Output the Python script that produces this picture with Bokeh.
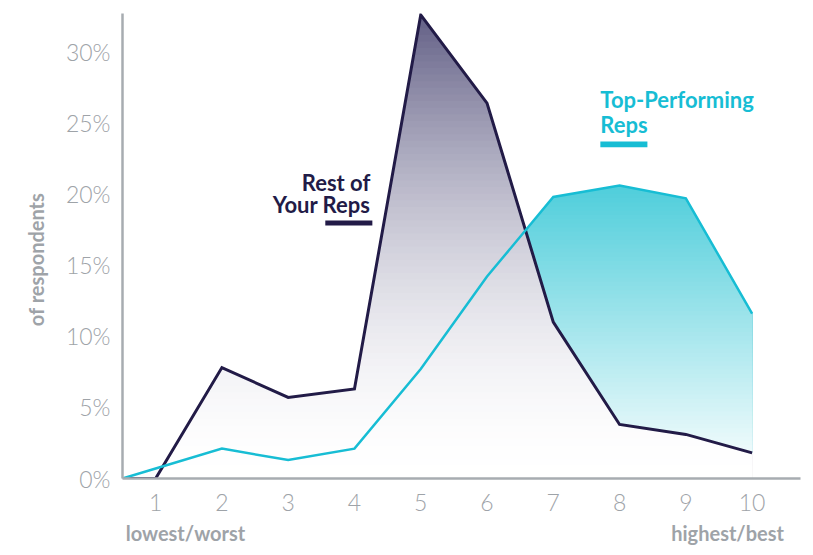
import numpy as np
from bokeh.plotting import figure
from bokeh.models import (FixedTicker, PrintfTickFormatter, Label, Range1d,
                          BoxAnnotation, LinearAxis)
from bokeh.embed import file_html
from bokeh.resources import INLINE

# Rating scale (0.5 is the left edge where both curves start from zero)
scores = [0.5, 1, 2, 3, 4, 5, 6, 7, 8, 9, 10]
score_ticks = [1, 2, 3, 4, 5, 6, 7, 8, 9, 10]

# Share of respondents (%) giving each rating
rest_of_reps = [0.0, 0.0, 7.8, 5.7, 6.3, 32.6, 26.4, 11.0, 3.8, 3.1, 1.8]
top_reps = [0.0, 0.7, 2.1, 1.3, 2.1, 7.7, 14.2, 19.8, 20.6, 19.7, 11.6]

pct_ticks = [0, 5, 10, 15, 20, 25, 30]

DARK = "#221b47"
CYAN = "#17bdd4"
GREY = "#9ea3a8"
DARK_FILL_TOP = (100, 97, 135)
CYAN_FILL_TOP = (80, 206, 219)

p = figure(width=813, height=555, output_backend="svg", toolbar_location=None,
           x_range=Range1d(0.5, 10.73), y_range=Range1d(0, 32.7),
           min_border_left=122, min_border_right=13, min_border_top=13,
           min_border_bottom=77)
p.outline_line_color = None
p.grid.grid_line_color = None
p.background_fill_color = "white"

for ax in (p.xaxis, p.yaxis):
    ax.axis_line_color = "#a7acb1"
    ax.axis_line_width = 2.5
    ax.major_tick_line_color = None
    ax.minor_tick_line_color = None
    ax.major_label_text_color = GREY
    ax.major_label_text_font = "Lato Light"
    ax.major_label_text_font_size = "23px"

p.xaxis.ticker = FixedTicker(ticks=score_ticks)
p.xaxis.major_label_standoff = 9
p.yaxis.ticker = FixedTicker(ticks=pct_ticks)
p.yaxis.formatter = PrintfTickFormatter(format="%d%%")
p.yaxis.major_label_standoff = 6


def caption_axis(ticks, overrides, standoff, orientation="horizontal"):
    """Line-less axis whose only job is to carry bold grey captions."""
    ax = LinearAxis(ticker=FixedTicker(ticks=ticks),
                    major_label_overrides=overrides,
                    major_label_orientation=orientation,
                    major_label_standoff=standoff,
                    axis_line_color=None, major_tick_line_color=None,
                    minor_tick_line_color=None,
                    major_label_text_color=GREY,
                    major_label_text_font="Lato",
                    major_label_text_font_style="bold",
                    major_label_text_font_size="20px")
    return ax


# Ends of the rating scale, under the score numbers
p.add_layout(caption_axis([1.45, 9.63], {1.45: "lowest/worst", 9.63: "highest/best"}, 1),
             "below")
# Y caption, left of the percentage labels
p.add_layout(caption_axis([15.4], {15.4: "of respondents"}, 8, "vertical"), "left")


def mix(rgb, t):
    r, g, b = (int(round(255 - (255 - c) * t)) for c in rgb)
    return "#%02x%02x%02x" % (r, g, b)


def gradient_area(values, top_rgb, power, n_bands=70):
    """Vertical gradient under a curve: stacked bands, darkest first."""
    xs = np.linspace(scores[0], scores[-1], 1901)
    ys = np.interp(xs, scores, values)
    peak = max(values)
    levels = np.linspace(0, peak, n_bands + 1)[1:]
    for hi in levels[::-1]:
        t = (hi / peak) ** power
        p.varea(x=xs, y1=np.zeros_like(xs), y2=np.minimum(ys, hi),
                fill_color=mix(top_rgb, t), fill_alpha=1.0)


gradient_area(top_reps, CYAN_FILL_TOP, 1.0)
gradient_area(rest_of_reps, DARK_FILL_TOP, 1.8)

p.line(scores, rest_of_reps, line_color=DARK, line_width=3, line_join="miter")
p.line(scores, top_reps, line_color=CYAN, line_width=2.5, line_join="miter")

# Series captions with their swatches
cap = dict(text_font="Lato", text_font_style="bold", text_font_size="22px",
           text_baseline="alphabetic")
p.add_layout(Label(x=4.24, y=20.8, text="Rest of", text_align="right",
                   text_color=DARK, **cap))
p.add_layout(Label(x=4.24, y=19.3, text="Your Reps", text_align="right",
                   text_color=DARK, **cap))
p.add_layout(BoxAnnotation(left=3.56, right=4.27, bottom=17.79, top=18.14,
                           fill_color=DARK, fill_alpha=1, line_color=None))

p.add_layout(Label(x=7.71, y=26.65, text="Top-Performing", text_align="left",
                   text_color=CYAN, **cap))
p.add_layout(Label(x=7.71, y=24.9, text="Reps", text_align="left",
                   text_color=CYAN, **cap))
p.add_layout(BoxAnnotation(left=7.71, right=8.42, bottom=23.29, top=23.70,
                           fill_color=CYAN, fill_alpha=1, line_color=None))

open("out.html", "w").write(file_html(p, INLINE))
